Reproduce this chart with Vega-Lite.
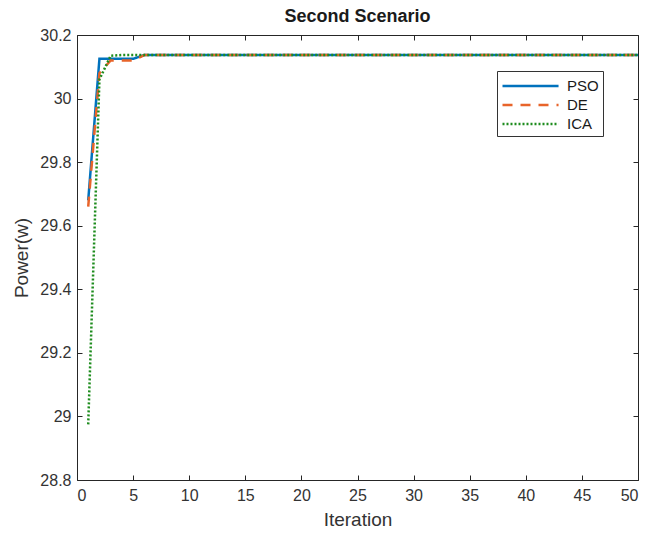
{
  "$schema": "https://vega.github.io/schema/vega-lite/v6.json",
  "width": 561,
  "height": 445,
  "autosize": {"type": "none"},
  "padding": {"left": 77, "top": 35, "right": 8, "bottom": 54},
  "background": "white",
  "title": {"text": "Second Scenario", "font": "Liberation Sans", "fontSize": 18, "fontWeight": "bold", "color": "#1a1a1a", "anchor": "middle", "offset": 1},
  "config": {
    "view": {"stroke": "#262626", "strokeWidth": 1},
    "axis": {"grid": false, "domain": false, "labelFont": "Liberation Sans", "labelFontSize": 16, "labelColor": "#333333", "titleFont": "Liberation Sans", "titleFontSize": 19, "titleFontWeight": "normal", "titleColor": "#333333", "tickColor": "#262626", "tickSize": -5, "labelPadding": 11}
  },
  "data": {"values": [
    {"iter": 1, "algo": "PSO", "power": 29.68}, {"iter": 2, "algo": "PSO", "power": 30.125}, {"iter": 3, "algo": "PSO", "power": 30.125}, {"iter": 4, "algo": "PSO", "power": 30.125}, {"iter": 5, "algo": "PSO", "power": 30.125},
    {"iter": 6, "algo": "PSO", "power": 30.137}, {"iter": 7, "algo": "PSO", "power": 30.137}, {"iter": 8, "algo": "PSO", "power": 30.137}, {"iter": 9, "algo": "PSO", "power": 30.137}, {"iter": 10, "algo": "PSO", "power": 30.137},
    {"iter": 11, "algo": "PSO", "power": 30.137}, {"iter": 12, "algo": "PSO", "power": 30.137}, {"iter": 13, "algo": "PSO", "power": 30.137}, {"iter": 14, "algo": "PSO", "power": 30.137}, {"iter": 15, "algo": "PSO", "power": 30.137},
    {"iter": 16, "algo": "PSO", "power": 30.137}, {"iter": 17, "algo": "PSO", "power": 30.137}, {"iter": 18, "algo": "PSO", "power": 30.137}, {"iter": 19, "algo": "PSO", "power": 30.137}, {"iter": 20, "algo": "PSO", "power": 30.137},
    {"iter": 21, "algo": "PSO", "power": 30.137}, {"iter": 22, "algo": "PSO", "power": 30.137}, {"iter": 23, "algo": "PSO", "power": 30.137}, {"iter": 24, "algo": "PSO", "power": 30.137}, {"iter": 25, "algo": "PSO", "power": 30.137},
    {"iter": 26, "algo": "PSO", "power": 30.137}, {"iter": 27, "algo": "PSO", "power": 30.137}, {"iter": 28, "algo": "PSO", "power": 30.137}, {"iter": 29, "algo": "PSO", "power": 30.137}, {"iter": 30, "algo": "PSO", "power": 30.137},
    {"iter": 31, "algo": "PSO", "power": 30.137}, {"iter": 32, "algo": "PSO", "power": 30.137}, {"iter": 33, "algo": "PSO", "power": 30.137}, {"iter": 34, "algo": "PSO", "power": 30.137}, {"iter": 35, "algo": "PSO", "power": 30.137},
    {"iter": 36, "algo": "PSO", "power": 30.137}, {"iter": 37, "algo": "PSO", "power": 30.137}, {"iter": 38, "algo": "PSO", "power": 30.137}, {"iter": 39, "algo": "PSO", "power": 30.137}, {"iter": 40, "algo": "PSO", "power": 30.137},
    {"iter": 41, "algo": "PSO", "power": 30.137}, {"iter": 42, "algo": "PSO", "power": 30.137}, {"iter": 43, "algo": "PSO", "power": 30.137}, {"iter": 44, "algo": "PSO", "power": 30.137}, {"iter": 45, "algo": "PSO", "power": 30.137},
    {"iter": 46, "algo": "PSO", "power": 30.137}, {"iter": 47, "algo": "PSO", "power": 30.137}, {"iter": 48, "algo": "PSO", "power": 30.137}, {"iter": 49, "algo": "PSO", "power": 30.137}, {"iter": 50, "algo": "PSO", "power": 30.137},
    {"iter": 1, "algo": "DE", "power": 29.66}, {"iter": 2, "algo": "DE", "power": 30.08}, {"iter": 3, "algo": "DE", "power": 30.12}, {"iter": 4, "algo": "DE", "power": 30.12}, {"iter": 5, "algo": "DE", "power": 30.12},
    {"iter": 6, "algo": "DE", "power": 30.137}, {"iter": 7, "algo": "DE", "power": 30.137}, {"iter": 8, "algo": "DE", "power": 30.137}, {"iter": 9, "algo": "DE", "power": 30.137}, {"iter": 10, "algo": "DE", "power": 30.137},
    {"iter": 11, "algo": "DE", "power": 30.137}, {"iter": 12, "algo": "DE", "power": 30.137}, {"iter": 13, "algo": "DE", "power": 30.137}, {"iter": 14, "algo": "DE", "power": 30.137}, {"iter": 15, "algo": "DE", "power": 30.137},
    {"iter": 16, "algo": "DE", "power": 30.137}, {"iter": 17, "algo": "DE", "power": 30.137}, {"iter": 18, "algo": "DE", "power": 30.137}, {"iter": 19, "algo": "DE", "power": 30.137}, {"iter": 20, "algo": "DE", "power": 30.137},
    {"iter": 21, "algo": "DE", "power": 30.137}, {"iter": 22, "algo": "DE", "power": 30.137}, {"iter": 23, "algo": "DE", "power": 30.137}, {"iter": 24, "algo": "DE", "power": 30.137}, {"iter": 25, "algo": "DE", "power": 30.137},
    {"iter": 26, "algo": "DE", "power": 30.137}, {"iter": 27, "algo": "DE", "power": 30.137}, {"iter": 28, "algo": "DE", "power": 30.137}, {"iter": 29, "algo": "DE", "power": 30.137}, {"iter": 30, "algo": "DE", "power": 30.137},
    {"iter": 31, "algo": "DE", "power": 30.137}, {"iter": 32, "algo": "DE", "power": 30.137}, {"iter": 33, "algo": "DE", "power": 30.137}, {"iter": 34, "algo": "DE", "power": 30.137}, {"iter": 35, "algo": "DE", "power": 30.137},
    {"iter": 36, "algo": "DE", "power": 30.137}, {"iter": 37, "algo": "DE", "power": 30.137}, {"iter": 38, "algo": "DE", "power": 30.137}, {"iter": 39, "algo": "DE", "power": 30.137}, {"iter": 40, "algo": "DE", "power": 30.137},
    {"iter": 41, "algo": "DE", "power": 30.137}, {"iter": 42, "algo": "DE", "power": 30.137}, {"iter": 43, "algo": "DE", "power": 30.137}, {"iter": 44, "algo": "DE", "power": 30.137}, {"iter": 45, "algo": "DE", "power": 30.137},
    {"iter": 46, "algo": "DE", "power": 30.137}, {"iter": 47, "algo": "DE", "power": 30.137}, {"iter": 48, "algo": "DE", "power": 30.137}, {"iter": 49, "algo": "DE", "power": 30.137}, {"iter": 50, "algo": "DE", "power": 30.137},
    {"iter": 1, "algo": "ICA", "power": 28.975}, {"iter": 2, "algo": "ICA", "power": 30.06}, {"iter": 3, "algo": "ICA", "power": 30.135}, {"iter": 4, "algo": "ICA", "power": 30.137}, {"iter": 5, "algo": "ICA", "power": 30.137},
    {"iter": 6, "algo": "ICA", "power": 30.137}, {"iter": 7, "algo": "ICA", "power": 30.137}, {"iter": 8, "algo": "ICA", "power": 30.137}, {"iter": 9, "algo": "ICA", "power": 30.137}, {"iter": 10, "algo": "ICA", "power": 30.137},
    {"iter": 11, "algo": "ICA", "power": 30.137}, {"iter": 12, "algo": "ICA", "power": 30.137}, {"iter": 13, "algo": "ICA", "power": 30.137}, {"iter": 14, "algo": "ICA", "power": 30.137}, {"iter": 15, "algo": "ICA", "power": 30.137},
    {"iter": 16, "algo": "ICA", "power": 30.137}, {"iter": 17, "algo": "ICA", "power": 30.137}, {"iter": 18, "algo": "ICA", "power": 30.137}, {"iter": 19, "algo": "ICA", "power": 30.137}, {"iter": 20, "algo": "ICA", "power": 30.137},
    {"iter": 21, "algo": "ICA", "power": 30.137}, {"iter": 22, "algo": "ICA", "power": 30.137}, {"iter": 23, "algo": "ICA", "power": 30.137}, {"iter": 24, "algo": "ICA", "power": 30.137}, {"iter": 25, "algo": "ICA", "power": 30.137},
    {"iter": 26, "algo": "ICA", "power": 30.137}, {"iter": 27, "algo": "ICA", "power": 30.137}, {"iter": 28, "algo": "ICA", "power": 30.137}, {"iter": 29, "algo": "ICA", "power": 30.137}, {"iter": 30, "algo": "ICA", "power": 30.137},
    {"iter": 31, "algo": "ICA", "power": 30.137}, {"iter": 32, "algo": "ICA", "power": 30.137}, {"iter": 33, "algo": "ICA", "power": 30.137}, {"iter": 34, "algo": "ICA", "power": 30.137}, {"iter": 35, "algo": "ICA", "power": 30.137},
    {"iter": 36, "algo": "ICA", "power": 30.137}, {"iter": 37, "algo": "ICA", "power": 30.137}, {"iter": 38, "algo": "ICA", "power": 30.137}, {"iter": 39, "algo": "ICA", "power": 30.137}, {"iter": 40, "algo": "ICA", "power": 30.137},
    {"iter": 41, "algo": "ICA", "power": 30.137}, {"iter": 42, "algo": "ICA", "power": 30.137}, {"iter": 43, "algo": "ICA", "power": 30.137}, {"iter": 44, "algo": "ICA", "power": 30.137}, {"iter": 45, "algo": "ICA", "power": 30.137},
    {"iter": 46, "algo": "ICA", "power": 30.137}, {"iter": 47, "algo": "ICA", "power": 30.137}, {"iter": 48, "algo": "ICA", "power": 30.137}, {"iter": 49, "algo": "ICA", "power": 30.137}, {"iter": 50, "algo": "ICA", "power": 30.137}
  ]},
  "layer": [
    {
      "mark": {"type": "line", "strokeWidth": 2.5, "clip": true},
      "encoding": {
        "x": {"field": "iter", "type": "quantitative", "scale": {"domain": [0, 50], "nice": false, "zero": false}, "axis": {"title": "Iteration", "values": [0, 5, 10, 15, 20, 25, 30, 35, 40, 45, 50], "labelPadding": 12, "titlePadding": 7}},
        "y": {"field": "power", "type": "quantitative", "scale": {"domain": [28.8, 30.2], "nice": false, "zero": false}, "axis": {"title": "Power(w)", "values": [28.8, 29, 29.2, 29.4, 29.6, 29.8, 30, 30.2], "labelExpr": "datum.value === 30 ? '30' : datum.value === 29 ? '29' : format(datum.value, '.1f')", "titlePadding": 8}},
        "color": {"field": "algo", "type": "nominal", "scale": {"domain": ["PSO", "DE", "ICA"], "range": ["#0072BD", "#E8642A", "#1E8C1E"]}, "legend": {"title": null, "orient": "none", "legendX": 420, "legendY": 36, "symbolType": "M-1,0H4.9", "symbolSize": 361, "symbolStrokeWidth": 2.5, "symbolFillColor": "transparent", "labelFont": "Liberation Sans", "labelFontSize": 15, "labelColor": "#1a1a1a", "rowPadding": 0, "padding": 4, "strokeColor": "#333333", "fillColor": "white", "labelOffset": 44}},
        "strokeDash": {"field": "algo", "type": "nominal", "scale": {"domain": ["PSO", "DE", "ICA"], "range": [[1, 0], [10, 8], [2, 2]]}, "legend": null}
      }
    },
    {
      "mark": {"type": "line", "opacity": 0},
      "encoding": {
        "x": {"field": "iter", "type": "quantitative", "axis": {"orient": "top", "labels": false, "title": null, "values": [0, 5, 10, 15, 20, 25, 30, 35, 40, 45, 50]}},
        "y": {"field": "power", "type": "quantitative", "axis": {"orient": "right", "labels": false, "title": null, "values": [28.8, 29, 29.2, 29.4, 29.6, 29.8, 30, 30.2]}}
      }
    }
  ],
  "resolve": {"axis": {"x": "independent", "y": "independent"}}
}
